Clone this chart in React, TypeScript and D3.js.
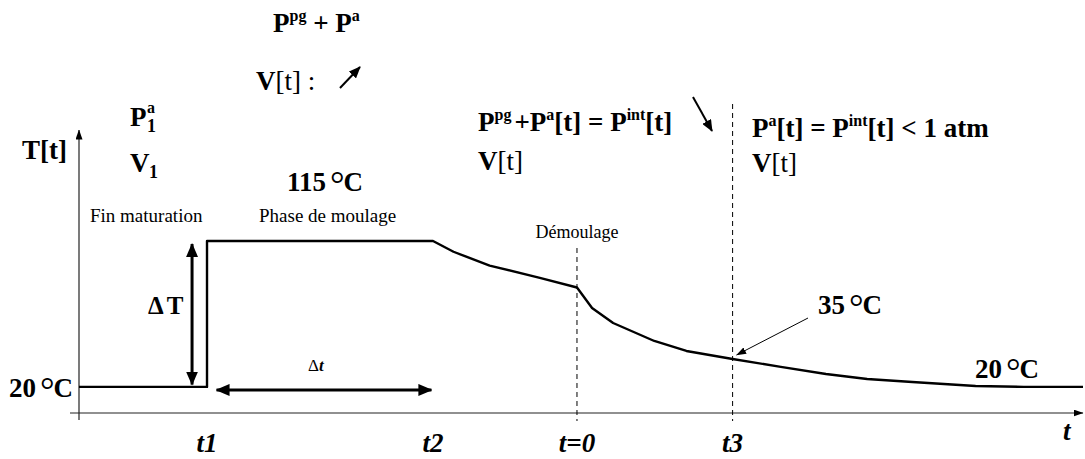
import * as d3 from 'd3'

const W = 1085
const H = 459

// schematic time axis (arbitrary units) and temperature (°C)
const tickTimes = [12.75, 35.26, 49.6, 65.1]
const tickLabels = ['t1', 't2', 't=0', 't3']

const curveTime = [0, 12.75, 12.75, 35.26, 37.3, 40.9, 45.9, 49.6, 51.1, 53.2, 57.3, 60.5, 65.1, 69.9, 74.4, 78.5, 83.0, 89.3, 94.1, 100]
const curveTemp = [20, 20, 115, 115, 108, 99, 91, 84.7, 71.4, 61.6, 49.9, 43.4, 38.2, 33, 28.4, 25.1, 23.2, 20.6, 20, 20]

const FONT = '"Liberation Serif", "Times New Roman", Times, serif'

const x = d3.scaleLinear().domain([0, 100]).range([79, 1083])
const y = d3.scaleLinear().domain([3, 115]).range([413, 241])

const pts: [number, number][] = curveTime.map((t, i) => [t, curveTemp[i]])
const line = d3.line<[number, number]>().x(d => x(d[0])).y(d => y(d[1]))

function Deg({ x: px, y: py, label, size = 27 }: { x: number; y: number; label: string; size?: number }) {
  return (
    <text x={px} y={py} fontSize={size} fontWeight="bold" style={{ fontFamily: FONT }}>
      {label}
      <tspan dx={4} dy={5} fontWeight="normal" fontSize={size * 1.35}>°</tspan>
      <tspan dx={-1} dy={-5}>C</tspan>
    </text>
  )
}

export default function App() {
  const axisY = y(3)
  const t0 = x(tickTimes[2])
  const t3 = x(tickTimes[3])
  const dTx = x(11.26)
  const dty = y(18)
  const c35 = [x(65.1) + 4, y(38.2) - 4]
  return (
    <svg width={W} height={H} style={{ position: 'absolute', left: 0, top: 0, background: '#fff' }}>
      <defs>
        <marker id="thick" viewBox="0 0 14 12" refX="13" refY="6" markerWidth="14" markerHeight="12" markerUnits="userSpaceOnUse" orient="auto-start-reverse">
          <path d="M0,0 L14,6 L0,12 z" fill="#000" />
        </marker>
        <marker id="thin" viewBox="0 0 10 7" refX="9.5" refY="3.5" markerWidth="10" markerHeight="7" markerUnits="userSpaceOnUse" orient="auto">
          <path d="M0,0 L10,3.5 L0,7 z" fill="#000" />
        </marker>
        <marker id="mid" viewBox="0 0 12 10" refX="11" refY="5" markerWidth="12" markerHeight="10" markerUnits="userSpaceOnUse" orient="auto">
          <path d="M0,0 L12,5 L0,10 z" fill="#000" />
        </marker>
      </defs>

      {/* axes */}
      <line x1={70} x2={1083} y1={axisY} y2={axisY} stroke="#222" strokeWidth={1.2} markerEnd="url(#thin)" />
      <line x1={x(0)} x2={x(0)} y1={420} y2={130} stroke="#222" strokeWidth={1.2} markerEnd="url(#thin)" />

      {/* dashed markers */}
      <line x1={t0} x2={t0} y1={248} y2={421} stroke="#000" strokeWidth={1} strokeDasharray="5,4" />
      <line x1={t3} x2={t3} y1={104} y2={421} stroke="#000" strokeWidth={1} strokeDasharray="5,4" />

      {/* temperature curve */}
      <path d={line(pts) ?? ''} fill="none" stroke="#000" strokeWidth={2.4} strokeLinejoin="round" />

      {/* ΔT and Δt arrows */}
      <line x1={dTx} x2={dTx} y1={y(113)} y2={y(21.5)} stroke="#000" strokeWidth={3} markerStart="url(#thick)" markerEnd="url(#thick)" />
      <line x1={x(13.7)} x2={x(35.1)} y1={dty} y2={dty} stroke="#000" strokeWidth={3} markerStart="url(#thick)" markerEnd="url(#thick)" />

      {/* pointers */}
      <line x1={808} y1={318} x2={c35[0]} y2={c35[1]} stroke="#000" strokeWidth={1} markerEnd="url(#thin)" />
      <line x1={340} y1={88} x2={360} y2={67} stroke="#000" strokeWidth={2} markerEnd="url(#mid)" />
      <line x1={693} y1={97} x2={712} y2={131} stroke="#000" strokeWidth={2} markerEnd="url(#mid)" />

      <g style={{ fontFamily: FONT }} fill="#000">
        <text x={148} y={314} fontSize={25} fontWeight="bold">Δ<tspan dx={3}>T</tspan></text>
        <text x={x(23.6)} y={371} fontSize={17} textAnchor="middle">Δ<tspan fontStyle="italic" fontWeight="bold">t</tspan></text>

        {/* tick labels */}
        {tickLabels.map((l, i) => (
          <text key={l} x={x(tickTimes[i])} y={452} fontSize={27} fontWeight="bold" fontStyle="italic" textAnchor="middle">{l}</text>
        ))}
        <text x={1063} y={440} fontSize={27} fontWeight="bold" fontStyle="italic">t</text>
        <text x={22} y={159} fontSize={27} fontWeight="bold">T[t]</text>

        <text x={90} y={222} fontSize={19}>Fin maturation</text>
        <text x={259} y={222} fontSize={19}>Phase de moulage</text>
        <text x={t0} y={238} fontSize={18} textAnchor="middle">Démoulage</text>

        {/* top formulas */}
        <text x={273} y={32} fontSize={27} fontWeight="bold">
          P<tspan fontSize={16} dy={-11}>pg</tspan><tspan dy={11}> + </tspan> P<tspan fontSize={16} dy={-11}>a</tspan>
        </text>
        <text x={256} y={90} fontSize={27}>
          <tspan fontWeight="bold">V</tspan>[t] :
        </text>

        <text x={130} y={126} fontSize={27} fontWeight="bold">P</text>
        <text x={147} y={113} fontSize={16} fontWeight="bold">a</text>
        <text x={147} y={132} fontSize={18} fontWeight="bold">1</text>
        <text x={130} y={172} fontSize={27} fontWeight="bold">V</text>
        <text x={149} y={178} fontSize={18} fontWeight="bold">1</text>

        <text x={478} y={131} fontSize={27} fontWeight="bold">
          P<tspan fontSize={16} dy={-11}>pg</tspan><tspan dy={11} dx={3}>+</tspan>P<tspan fontSize={16} dy={-11}>a</tspan><tspan dy={11}>[t] = P</tspan><tspan fontSize={16} dy={-11}>int</tspan><tspan dy={11}>[t]</tspan>
        </text>
        <text x={478} y={170} fontSize={27}><tspan fontWeight="bold">V</tspan>[t]</text>

        <text x={752} y={137} fontSize={27} fontWeight="bold">
          P<tspan fontSize={16} dy={-11}>a</tspan><tspan dy={11}>[t] = P</tspan><tspan fontSize={16} dy={-11}>int</tspan><tspan dy={11}>[t] &lt; 1 atm</tspan>
        </text>
        <text x={752} y={172} fontSize={27}><tspan fontWeight="bold">V</tspan>[t]</text>
      </g>

      <Deg x={9} y={397} label="20" />
      <Deg x={818} y={314} label="35" />
      <Deg x={975} y={378} label="20" />
      <Deg x={287} y={191} label="115" />
    </svg>
  )
}
